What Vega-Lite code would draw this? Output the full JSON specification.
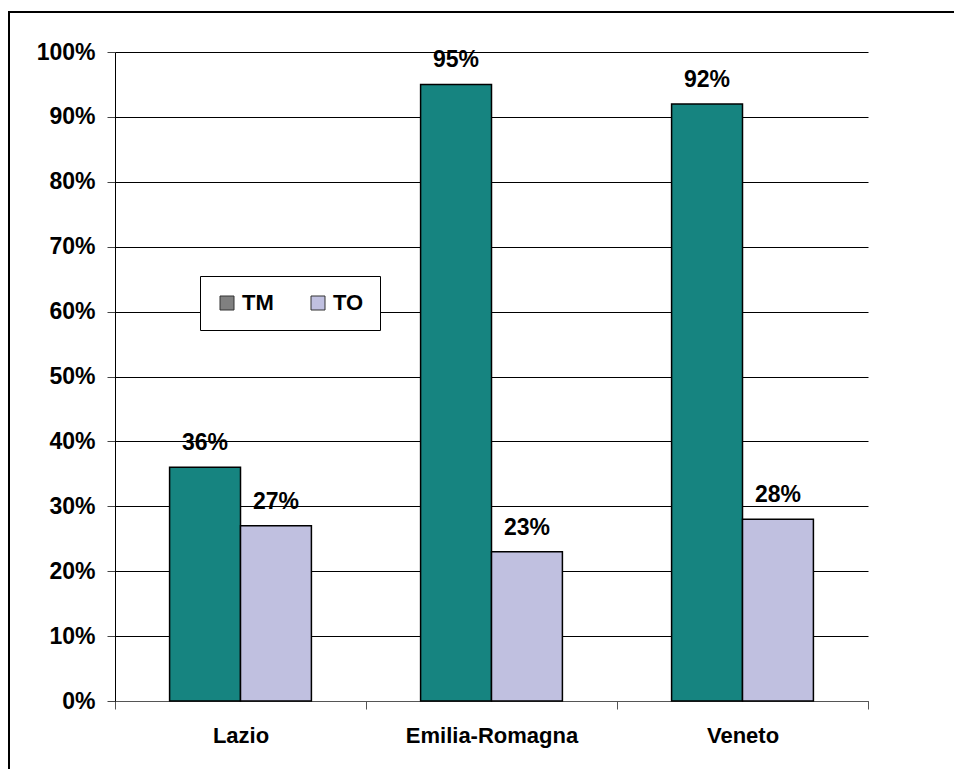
{
  "$schema": "https://vega.github.io/schema/vega-lite/v6.json",
  "width": 950,
  "height": 762,
  "autosize": {"type": "none"},
  "padding": {"left": 9, "top": 12, "right": 0, "bottom": 0},
  "background": "white",
  "config": {
    "view": {"stroke": "black", "strokeWidth": 2},
    "font": "Liberation Sans"
  },
  "data": {
    "values": [
      {"region": "Lazio", "serie": "TM", "value": 0.36},
      {"region": "Lazio", "serie": "TO", "value": 0.27},
      {"region": "Emilia-Romagna", "serie": "TM", "value": 0.95},
      {"region": "Emilia-Romagna", "serie": "TO", "value": 0.23},
      {"region": "Veneto", "serie": "TM", "value": 0.92},
      {"region": "Veneto", "serie": "TO", "value": 0.28}
    ]
  },
  "encoding": {
    "x": {
      "field": "region",
      "type": "nominal",
      "sort": ["Lazio", "Emilia-Romagna", "Veneto"],
      "scale": {"range": [106, 859], "paddingInner": 0, "paddingOuter": 0},
      "axis": {
        "title": null,
        "labelAngle": 0,
        "offset": -73,
        "tickBand": "extent",
        "tickSize": 8,
        "tickColor": "#555",
        "domainColor": "#555",
        "labelFont": "Liberation Sans",
        "labelFontSize": 22,
        "labelFontWeight": "bold",
        "labelColor": "black",
        "labelPadding": 16
      }
    },
    "xOffset": {
      "field": "serie",
      "type": "nominal",
      "scale": {"paddingInner": 0, "paddingOuter": 0.77}
    },
    "y": {
      "field": "value",
      "type": "quantitative",
      "scale": {"domain": [0, 1], "range": [689, 40], "nice": false, "zero": true},
      "axis": {
        "title": null,
        "values": [0, 0.1, 0.2, 0.3, 0.4, 0.5, 0.6, 0.7, 0.8, 0.9, 1],
        "format": ".0%",
        "offset": -106,
        "grid": true,
        "gridColor": "black",
        "gridWidth": 1,
        "gridOpacity": 1,
        "domainColor": "black",
        "tickColor": "#444",
        "tickSize": 8,
        "labelFont": "Liberation Sans",
        "labelFontSize": 23,
        "labelFontWeight": "bold",
        "labelColor": "black",
        "labelPadding": 12
      }
    }
  },
  "layer": [
    {
      "mark": {"type": "bar", "opacity": 0},
      "encoding": {
        "fill": {
          "field": "serie",
          "type": "nominal",
          "scale": {"domain": ["TM", "TO"], "range": ["#808080", "#c0c0e0"]},
          "legend": {
            "title": null,
            "orient": "none",
            "legendX": 191,
            "legendY": 264,
            "direction": "horizontal",
            "fillColor": "white",
            "strokeColor": "black",
            "padding": 16,
            "symbolType": "square",
            "symbolSize": 196,
            "symbolOpacity": 1,
            "symbolStrokeColor": "#333",
            "symbolStrokeWidth": 1,
            "labelFont": "Liberation Sans",
            "labelFontSize": 22,
            "labelFontWeight": "bold",
            "labelColor": "black",
            "labelOffset": 4,
            "columnPadding": 33
          }
        }
      }
    },
    {
      "mark": {"type": "bar", "stroke": "black", "strokeWidth": 1.5},
      "encoding": {
        "color": {
          "field": "serie",
          "type": "nominal",
          "scale": {"domain": ["TM", "TO"], "range": ["#168480", "#c0c0e0"]},
          "legend": null
        }
      }
    },
    {
      "mark": {
        "type": "text",
        "baseline": "alphabetic",
        "dy": -17,
        "font": "Liberation Sans",
        "fontSize": 23,
        "fontWeight": "bold",
        "color": "black"
      },
      "encoding": {
        "text": {"field": "value", "type": "quantitative", "format": ".0%"}
      }
    }
  ]
}
